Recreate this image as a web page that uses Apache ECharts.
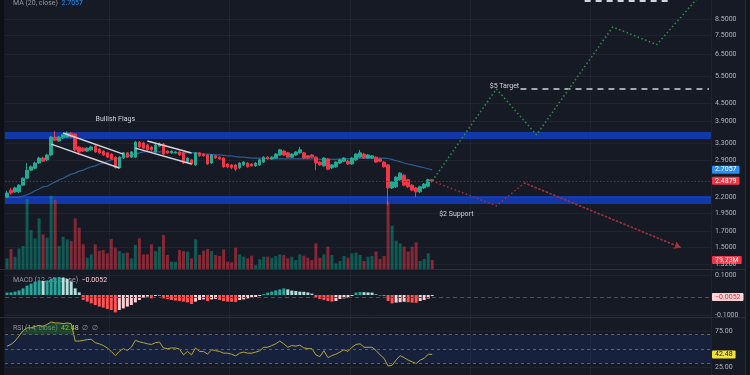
<!DOCTYPE html>
<html><head><meta charset="utf-8">
<script src="https://cdn.jsdelivr.net/npm/echarts@6/dist/echarts.min.js"></script>
<style>html,body{margin:0;padding:0;background:#161a25;}#c{width:750px;height:375px;}</style>
</head><body><div id="c"></div>
<script>
// ---- data ----
const opens =[2.20,2.32,2.29,2.29,2.41,2.54,2.70,2.74,2.85,2.96,2.92,3.03,3.47,3.37,3.45,3.47,3.58,3.55,3.22,3.19,3.12,3.15,3.24,3.17,3.12,3.08,3.05,2.98,2.75,2.96,3.08,2.98,2.98,3.34,3.32,3.27,3.22,3.10,3.24,3.29,3.12,3.08,3.08,3.10,3.08,2.87,2.92,2.81,3.08,3.05,3.03,2.85,3.01,2.98,2.96,2.83,2.81,2.81,2.75,2.81,2.85,2.83,2.79,2.81,2.87,2.98,2.94,2.96,3.03,3.12,3.08,2.98,3.03,3.08,3.08,3.01,3.03,2.98,2.87,2.79,2.94,2.75,2.77,2.85,2.89,2.89,2.83,2.92,2.98,3.05,2.96,2.96,2.98,2.94,2.87,2.81,2.36,2.38,2.51,2.60,2.51,2.41,2.36,2.29,2.36,2.39,2.51];
const closes=[2.27,2.27,2.36,2.41,2.54,2.70,2.77,2.85,2.96,2.89,3.03,3.47,3.39,3.47,3.53,3.58,3.47,3.15,3.10,3.12,3.19,3.22,3.10,3.08,3.03,2.98,2.94,2.75,2.98,3.08,2.98,3.10,3.34,3.22,3.19,3.15,3.15,3.27,3.29,3.05,3.08,3.12,3.10,3.03,2.85,2.96,2.83,3.08,3.01,3.01,2.83,3.03,2.96,2.94,2.77,2.77,2.75,2.72,2.85,2.87,2.77,2.79,2.85,2.92,2.98,2.94,2.98,3.05,3.15,3.03,2.98,3.05,3.10,3.15,2.96,2.96,2.98,2.85,2.81,2.96,2.72,2.81,2.87,2.92,2.96,2.83,2.96,3.05,3.08,2.96,3.03,3.01,2.87,2.89,2.77,2.36,2.47,2.56,2.64,2.41,2.38,2.32,2.29,2.38,2.43,2.51,2.4879];
const lows  =[2.19,2.24,2.27,2.27,2.40,2.52,2.68,2.72,2.83,2.87,2.89,3.00,3.37,3.35,3.42,3.45,3.44,3.12,3.03,3.10,3.10,3.13,3.08,3.05,3.01,2.96,2.92,2.73,2.73,2.94,2.96,2.96,2.96,3.20,3.17,3.12,3.12,3.08,3.22,3.03,3.05,3.06,3.06,3.01,2.83,2.85,2.81,2.79,2.99,2.99,2.81,2.83,2.94,2.92,2.75,2.74,2.72,2.68,2.72,2.79,2.75,2.77,2.77,2.79,2.85,2.92,2.92,2.94,3.01,3.01,2.96,2.96,3.01,3.06,2.94,2.94,2.96,2.70,2.79,2.77,2.70,2.72,2.75,2.83,2.87,2.81,2.81,2.89,2.96,2.94,2.94,2.94,2.85,2.87,2.75,2.07,2.34,2.36,2.49,2.39,2.36,2.30,2.20,2.27,2.34,2.37,2.46];
const highs =[2.31,2.36,2.38,2.43,2.56,2.85,2.80,2.88,2.99,2.99,3.06,3.50,3.63,3.50,3.56,3.62,3.60,3.57,3.24,3.22,3.21,3.25,3.27,3.19,3.14,3.10,3.07,3.00,3.00,3.10,3.10,3.12,3.37,3.37,3.35,3.29,3.24,3.30,3.33,3.32,3.14,3.14,3.12,3.12,3.10,2.98,2.94,3.10,3.10,3.07,3.05,3.05,3.03,3.00,2.98,2.85,2.83,2.83,2.87,2.89,2.87,2.85,2.87,2.94,3.00,3.00,3.00,3.07,3.17,3.15,3.10,3.07,3.12,3.22,3.10,3.03,3.05,3.00,2.89,2.98,2.96,2.83,2.89,2.94,2.98,2.92,2.98,3.07,3.15,3.08,3.05,3.03,3.00,2.96,2.89,2.83,2.49,2.58,2.66,2.62,2.53,2.43,2.38,2.40,2.45,2.53,2.52];
const ma20  =[2.20,2.20,2.20,2.20,2.22,2.24,2.27,2.31,2.34,2.38,2.39,2.43,2.47,2.51,2.54,2.58,2.62,2.64,2.68,2.70,2.74,2.77,2.79,2.83,2.85,2.89,2.92,2.94,2.96,2.98,3.01,3.03,3.05,3.08,3.10,3.11,3.11,3.10,3.10,3.10,3.10,3.09,3.08,3.08,3.08,3.08,3.08,3.08,3.06,3.05,3.05,3.04,3.03,3.03,3.02,3.01,3.01,2.99,2.98,2.98,2.97,2.96,2.96,2.96,2.95,2.95,2.94,2.94,2.94,2.94,2.94,2.94,2.94,2.94,2.94,2.94,2.94,2.94,2.93,2.93,2.93,2.93,2.93,2.94,2.94,2.94,2.95,2.95,2.96,2.96,2.96,2.96,2.96,2.96,2.96,2.95,2.93,2.90,2.88,2.85,2.83,2.81,2.79,2.77,2.75,2.73,2.7057];
const volumesM=[94,177,109,183,204,620,345,272,449,307,278,650,611,204,286,263,248,449,366,219,100,130,219,162,168,139,266,189,159,139,145,94,213,272,130,130,219,159,198,301,124,65,65,168,159,154,94,263,124,162,177,159,124,115,174,65,59,189,130,109,94,118,35,86,109,109,100,115,130,124,94,109,80,130,118,100,80,227,100,130,198,124,50,71,115,100,139,145,124,71,109,115,154,89,115,597,384,251,227,198,154,198,236,71,89,139,79.73];
const macdHist=[0.012,0.013,0.017,0.023,0.033,0.047,0.057,0.067,0.073,0.070,0.073,0.080,0.088,0.090,0.087,0.080,0.067,0.033,0.013,-0.025,-0.033,-0.042,-0.050,-0.058,-0.063,-0.070,-0.075,-0.087,-0.075,-0.067,-0.058,-0.050,-0.037,-0.025,-0.013,-0.008,-0.017,-0.005,-0.003,-0.017,-0.020,-0.025,-0.028,-0.030,-0.033,-0.037,-0.045,-0.033,-0.025,-0.022,-0.030,-0.022,-0.020,-0.025,-0.030,-0.033,-0.034,-0.035,-0.025,-0.022,-0.017,-0.013,-0.010,-0.005,0.005,0.012,0.017,0.023,0.028,0.033,0.028,0.022,0.020,0.017,0.016,0.013,0.007,-0.013,-0.020,-0.025,-0.030,-0.033,-0.030,-0.020,-0.017,-0.013,-0.005,0.012,0.015,0.014,0.013,0.012,0.003,-0.003,-0.005,-0.030,-0.042,-0.038,-0.036,-0.034,-0.036,-0.038,-0.039,-0.030,-0.025,-0.018,-0.0052];
const rsi=[53.9,56.3,61,68,75.5,79.4,79.4,81.3,82.8,81.3,84.2,87.6,86.1,86.1,85.2,86.1,85.2,61,61,62,63,63.5,58.7,57.2,54.8,51.4,46.6,40.8,46.6,50.5,48,52.4,62,60,58.7,57.2,56.3,58.7,59.6,51.4,50.5,51.4,51.4,50,41.8,46.6,41.8,51.4,46.6,46.6,42.8,49,47.6,46.6,44.2,44.2,42.8,40.4,44.2,45.7,44.2,44.2,45.7,47.6,52.4,52.4,54.8,57.2,61,57.2,52.4,54.8,53.9,55.3,51.4,50.5,50.5,41.8,39.4,47.6,38,40.8,42.8,45.7,49,46.6,52.4,56.3,57.2,52.4,52.4,52.4,48,41.8,37,26.4,27.3,34.6,40.8,38,34.6,32.2,29.8,34.6,37,42.8,42.48];
const priceTicks=[1.32,1.5,1.7,1.95,2.2,2.9,3.3,3.9,4.5,5.5,6.5,7.5,8.5];
const macdTicks=[0.1,-0.1];
const rsiTicks=[75,25];
const rsiLevels=[70,50,30];
const resistanceBand=[3.42,3.61];
const supportBand=[2.09,2.22];
const greenPath=[[106,2.4879],[122,5.0],[132,3.53],[151,8.0],[162,7.0],[175,11.0]];
const redPath=[[106,2.4879],[122,2.06],[129,2.45],[168,1.5]];
const flag1Top=[[14,3.58],[29,3.05]], flag1Bottom=[[11,3.29],[28,2.745]];
const flag2Top=[[35,3.37],[46,3.075]], flag2Bottom=[[32,3.19],[46,2.83]];
const target5=[[128,5.0],[175,5.0]];
const topTarget=[[144,9.74],[165,9.74]];
const notes=[{text:'Bullish Flags',at:[27,3.98]},{text:'$2 Support',at:[112,1.936]},{text:'$5 Target',at:[124,5.11]}];
const lastPrice=2.4879, lastMA=2.7057, lastVol=79.73, lastMacd=-0.0052, lastRsi=42.48;
const slotCount=176;
const categories=Array.from({length:slotCount},(_,i)=>String(i));

// ---- chart ----
const chart=echarts.init(document.getElementById('c'),null,{renderer:'canvas'});
const UP='#22ab94', DOWN='#f23645', GRIDC='rgba(255,255,255,0.045)', AXT='#b2b5be';
const L=5, R=39;
const gridsDef=[{top:0,height:269},{top:159,height:110},{top:270,height:47},{top:317,height:58}];
const xAxes=gridsDef.map((g,gi)=>({type:'category',gridIndex:gi,data:categories,boundaryGap:true,
  axisLine:{show:false},axisTick:{show:false},axisLabel:{show:false},
  splitLine:{show:gi!==1,interval:(i)=>i%30===26,lineStyle:{color:GRIDC,width:1}}}));
const hiddenY={axisLine:{show:false},axisTick:{show:false},axisLabel:{show:false},splitLine:{show:false}};
const yAxes=[
  Object.assign({type:'log',logBase:10,gridIndex:0,min:1.2755,max:9.82,position:'right'},hiddenY),
  Object.assign({type:'value',gridIndex:1,min:0,max:975},hiddenY),
  Object.assign({type:'value',gridIndex:2,min:-0.11,max:0.125},hiddenY),
  Object.assign({type:'value',gridIndex:3,min:13.9,max:94.4},hiddenY)
];
const tickLine=(v,dec)=>({yAxis:v,lineStyle:{color:GRIDC,type:'solid',width:1},
  label:{show:true,position:'end',distance:4,formatter:v.toFixed(dec),color:AXT,fontSize:7,fontFamily:'Roboto'}});
const boxLabel=(v,text,bg,fg,lineStyle)=>({yAxis:v,lineStyle:lineStyle||{color:'rgba(0,0,0,0)',width:0.1},
  label:{show:true,position:'end',distance:1,formatter:text,backgroundColor:bg,color:fg,fontSize:7,fontFamily:'Roboto',padding:[1,3,0,3],borderRadius:1}});
const candleData=opens.map((o,i)=>[o,closes[i],lows[i],highs[i]]);
const macdColors=macdHist.map((v,i)=>{const p=i>0?macdHist[i-1]:0;
  if(v>=0) return v>=p?'#26a69a':'#b2dfdb'; return v<=p?'#ff5252':'#ffcdd2';});
const dotted=(color)=>({color:color,width:1.5,type:[1.5,2.5]});

const series=[
  // bands
  {type:'line',xAxisIndex:0,yAxisIndex:0,data:[],z:1,silent:true,
   markArea:{silent:true,itemStyle:{color:'#1237a8'},data:[[{yAxis:resistanceBand[0]},{yAxis:resistanceBand[1]}],[{yAxis:supportBand[0]},{yAxis:supportBand[1]}]]}},
  // volume
  {type:'bar',xAxisIndex:1,yAxisIndex:1,barWidth:3,z:2,silent:true,
   data:volumesM.map((v,i)=>({value:v,itemStyle:{color:closes[i]>=opens[i]?'rgba(8,153,129,0.5)':'rgba(242,54,69,0.5)'}})),
   markLine:{silent:true,symbol:'none',animation:false,data:[boxLabel(lastVol,lastVol.toFixed(2)+'M',DOWN,'#ffffff')]}},
  // MA with price scale ticks
  {type:'line',xAxisIndex:0,yAxisIndex:0,data:ma20,symbol:'none',z:3,silent:true,
   lineStyle:{color:'#2b5d8f',width:1.2},
   markLine:{silent:true,symbol:'none',animation:false,
     data:priceTicks.map(v=>tickLine(v,4)).concat([boxLabel(lastMA,lastMA.toFixed(4),'#2a8ff0','#ffffff')])}},
  // candles
  {type:'candlestick',xAxisIndex:0,yAxisIndex:0,data:candleData,barWidth:3,z:4,silent:true,
   itemStyle:{color:UP,color0:DOWN,borderColor:UP,borderColor0:DOWN,borderWidth:1},
   markLine:{silent:true,symbol:'none',animation:false,
     data:[boxLabel(lastPrice,lastPrice.toFixed(4),DOWN,'#ffffff',{color:'#7a2a35',type:[1.5,2],width:1})]}},
  // flags
  ...[flag1Top,flag1Bottom,flag2Top,flag2Bottom].map(d=>({type:'line',xAxisIndex:0,yAxisIndex:0,data:d,symbol:'none',z:5,silent:true,
   lineStyle:{color:'#d3d6de',width:1.4}})),
  // targets
  {type:'line',xAxisIndex:0,yAxisIndex:0,data:target5,symbol:'none',z:5,silent:true,lineStyle:{color:'#d1d4dc',width:1.5,type:[6,5]}},
  {type:'line',xAxisIndex:0,yAxisIndex:0,data:topTarget,symbol:'none',z:5,silent:true,lineStyle:{color:'#d1d4dc',width:2,type:[6,5]}},
  // projections
  {type:'line',xAxisIndex:0,yAxisIndex:0,data:greenPath,symbol:'none',z:5,silent:true,lineStyle:dotted('#2f8f4a')},
  {type:'line',xAxisIndex:0,yAxisIndex:0,data:redPath,symbol:'none',z:5,silent:true,lineStyle:dotted('#a3323f'),
   markLine:{silent:true,animation:false,symbol:['none','arrow'],symbolSize:[6,7],lineStyle:dotted('#a3323f'),
     itemStyle:{color:'#a3323f'},label:{show:false},
     data:[[{coord:[String(redPath[2][0]),redPath[2][1]]},{coord:[String(redPath[3][0]),redPath[3][1]]}]]}},
  // notes
  {type:'line',xAxisIndex:0,yAxisIndex:0,data:[],z:6,silent:true,
   markPoint:{silent:true,animation:false,symbolSize:0,
     data:notes.map(n=>({coord:[String(n.at[0]),n.at[1]],label:{show:true,position:'inside',formatter:n.text,color:'#d1d4dc',fontSize:7,fontFamily:'Roboto'}}))}},
  // MACD
  {type:'bar',xAxisIndex:2,yAxisIndex:2,barWidth:3,z:3,silent:true,
   data:macdHist.map((v,i)=>({value:v,itemStyle:{color:macdColors[i]}})),
   markLine:{silent:true,symbol:'none',animation:false,
     data:macdTicks.map(v=>tickLine(v,4)).concat([boxLabel(lastMacd,lastMacd.toFixed(4).replace('-','−'),'#fbd3d6','#d9303e',{color:'#4a4e5a',type:[4,3],width:1})])}},
  // RSI overbought fill
  {type:'line',xAxisIndex:3,yAxisIndex:3,data:rsi.map(v=>Math.max(v,rsiLevels[0])),symbol:'none',z:2,silent:true,
   lineStyle:{opacity:0},areaStyle:{origin:rsiLevels[0],color:'rgba(40,130,60,0.55)'}},
  // RSI
  {type:'line',xAxisIndex:3,yAxisIndex:3,data:rsi,symbol:'none',z:3,silent:true,lineStyle:{color:'#b5a73a',width:1},
   markArea:{silent:true,itemStyle:{color:'rgba(41,98,255,0.1)'},data:[[{yAxis:rsiLevels[2]},{yAxis:rsiLevels[0]}]]},
   markLine:{silent:true,symbol:'none',animation:false,
     data:rsiLevels.map(v=>({yAxis:v,lineStyle:{color:'#5d606b',type:[3,3],width:1},label:{show:false}}))
       .concat(rsiTicks.map(v=>tickLine(v,2)))
       .concat([boxLabel(lastRsi,lastRsi.toFixed(2),'#f2e232','#131722')])}}
];

const titleStyle={fontSize:7,fontFamily:'Roboto',fontWeight:'normal',color:'#9598a1',
  rich:{g:{fontSize:7,color:'#9598a1',fontFamily:'Roboto'},b:{fontSize:7,color:'#2a8ff0',fontFamily:'Roboto'},
        p:{fontSize:7,color:'#f7c7cb',fontFamily:'Roboto'},y:{fontSize:7,color:'#e6d72a',fontFamily:'Roboto'}}};
chart.setOption({
  backgroundColor:'#161a25',
  animation:false,
  grid:gridsDef.map(g=>({left:L,right:R,top:g.top,height:g.height,containLabel:false})),
  xAxis:xAxes, yAxis:yAxes,
  title:[
    {text:'{g|MA (20, close)}  {b|'+lastMA.toFixed(4)+'}',left:8,top:-5,z:1,textStyle:titleStyle},
    {text:'{g|MACD (12, 26, close)}  {p|'+lastMacd.toFixed(4).replace('-','−')+'}',left:8,top:272,z:1,textStyle:titleStyle},
    {text:'{g|RSI (14, close)}  {y|'+lastRsi.toFixed(2)+'}  {g|∅  ∅}',left:8,top:320,z:1,textStyle:titleStyle}
  ],
  graphic:[
    {type:'rect',shape:{x:0,y:0,width:4,height:375},style:{fill:'#0e1016'},z:100,silent:true},
    {type:'line',shape:{x1:0,y1:269.5,x2:745,y2:269.5},style:{stroke:'#2a2e39',lineWidth:1},z:100,silent:true},
    {type:'line',shape:{x1:0,y1:317.5,x2:745,y2:317.5},style:{stroke:'#2a2e39',lineWidth:1},z:100,silent:true},
    {type:'rect',shape:{x:745,y:0,width:5,height:375},style:{fill:'#12151e'},z:100,silent:true},
    {type:'line',shape:{x1:745.5,y1:0,x2:745.5,y2:375},style:{stroke:'#2a2e39',lineWidth:1},z:100,silent:true}
  ],
  series:series
});
</script></body></html>
